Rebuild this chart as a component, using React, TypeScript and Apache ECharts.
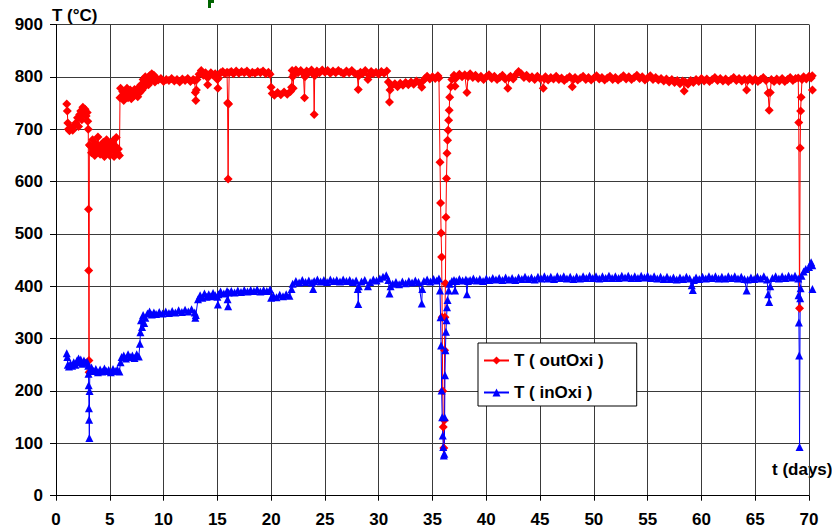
import React, { useEffect, useRef } from "react";
import * as echarts from "echarts";

const xTicks = { min: 0, max: 70, interval: 5 };
const yTicks = { min: 0, max: 900, interval: 100 };
const seriesNames = ["T ( outOxi )", "T ( inOxi )"];
const axisNames = { y: "T (°C)", x: "t (days)" };

const outOxi: number[][] = [
  [1.0, 748], [1.05, 735], [1.1, 712], [1.15, 700], [1.25, 697], [1.4, 703], [1.55, 698], [1.7, 706], [1.85, 712], [2.0, 722],
  [2.1, 705], [2.2, 728], [2.3, 735], [2.4, 718], [2.5, 742], [2.6, 730], [2.7, 738], [2.8, 725], [2.9, 732], [2.95, 715],
  [3.0, 700], [3.02, 547], [3.04, 430], [3.06, 258], [3.08, 236], [3.1, 670], [3.2, 668], [3.3, 655], [3.4, 680], [3.5, 662],
  [3.6, 650], [3.7, 672], [3.8, 660], [3.9, 685], [4.0, 664], [4.1, 652], [4.2, 670], [4.3, 658], [4.4, 675], [4.5, 648],
  [4.6, 666], [4.7, 680], [4.8, 655], [4.9, 668], [5.0, 650], [5.1, 672], [5.2, 660], [5.3, 678], [5.4, 648], [5.5, 668],
  [5.6, 684], [5.7, 655], [5.8, 662], [5.9, 650], [5.95, 760], [6.0, 778], [6.1, 762], [6.2, 772], [6.3, 755], [6.4, 770],
  [6.5, 765], [6.6, 778], [6.7, 760], [6.8, 768], [6.9, 775], [7.0, 758], [7.1, 770], [7.2, 763], [7.3, 776], [7.4, 766],
  [7.5, 772], [7.6, 762], [7.7, 780], [7.8, 770], [7.9, 785], [8.0, 775], [8.1, 795], [8.2, 780], [8.3, 800], [8.4, 788],
  [8.5, 798], [8.6, 785], [8.7, 802], [8.8, 792], [8.9, 806], [9.0, 796], [9.1, 803], [9.2, 790], [9.3, 798], [9.5, 794],
  [9.75, 797], [10.0, 791], [10.25, 795], [10.5, 793], [10.75, 797], [11.0, 792], [11.25, 795], [11.5, 790], [11.75, 796], [12.0, 793],
  [12.25, 797], [12.5, 791], [12.75, 795], [12.9, 793], [12.95, 770], [13.0, 755], [13.05, 775], [13.1, 795], [13.3, 805], [13.5, 812],
  [13.7, 803], [13.9, 808], [14.0, 800], [14.1, 785], [14.2, 800], [14.4, 808], [14.6, 803], [14.8, 806], [15.0, 795], [15.05, 778],
  [15.1, 798], [15.3, 808], [15.5, 810], [15.7, 806], [15.9, 809], [15.95, 750], [16.0, 605], [16.05, 748], [16.1, 808], [16.3, 810],
  [16.5, 806], [16.75, 811], [17.0, 807], [17.25, 810], [17.5, 808], [17.75, 811], [18.0, 806], [18.25, 809], [18.5, 807], [18.75, 810],
  [19.0, 808], [19.25, 811], [19.5, 806], [19.75, 809], [19.9, 805], [20.0, 780], [20.1, 768], [20.3, 765], [20.6, 770], [20.9, 766],
  [21.2, 771], [21.5, 767], [21.8, 772], [21.9, 780], [21.95, 812], [22.0, 800], [22.05, 778], [22.1, 805], [22.3, 813], [22.5, 808],
  [22.75, 812], [23.0, 806], [23.1, 760], [23.15, 800], [23.3, 811], [23.5, 808], [23.75, 813], [23.95, 805], [24.0, 728], [24.05, 802],
  [24.25, 811], [24.5, 808], [24.75, 813], [25.0, 809], [25.25, 812], [25.5, 807], [25.75, 811], [26.0, 808], [26.25, 812], [26.5, 809],
  [26.75, 806], [27.0, 811], [27.25, 808], [27.5, 812], [27.75, 807], [28.0, 805], [28.1, 776], [28.15, 802], [28.3, 809], [28.5, 806],
  [28.75, 812], [29.0, 795], [29.1, 803], [29.3, 810], [29.5, 806], [29.75, 809], [30.0, 805], [30.25, 810], [30.5, 807], [30.75, 811],
  [30.9, 790], [31.0, 752], [31.05, 775], [31.2, 783], [31.5, 787], [31.75, 781], [32.0, 788], [32.25, 784], [32.5, 789], [32.75, 785],
  [33.0, 790], [33.25, 786], [33.5, 792], [33.75, 789], [34.0, 780], [34.1, 792], [34.3, 797], [34.5, 801], [34.75, 796], [35.0, 800],
  [35.25, 797], [35.5, 802], [35.6, 798], [35.7, 637], [35.75, 559], [35.8, 502], [35.85, 456], [35.9, 341], [35.95, 200], [36.0, 131],
  [36.05, 91], [36.1, 144], [36.12, 278], [36.15, 341], [36.2, 406], [36.25, 532], [36.3, 606], [36.35, 654], [36.4, 679], [36.45, 698],
  [36.5, 717], [36.55, 736], [36.6, 761], [36.7, 781], [36.8, 795], [37.0, 803], [37.1, 782], [37.2, 798], [37.5, 805], [37.75, 800],
  [38.0, 804], [38.2, 770], [38.3, 800], [38.5, 806], [38.75, 799], [39.0, 803], [39.25, 797], [39.5, 801], [39.75, 795], [40.0, 800],
  [40.25, 804], [40.5, 797], [40.75, 801], [41.0, 795], [41.25, 799], [41.5, 803], [41.75, 796], [42.0, 778], [42.1, 798], [42.25, 801],
  [42.5, 796], [42.75, 804], [43.0, 810], [43.25, 806], [43.5, 799], [43.75, 803], [44.0, 797], [44.25, 800], [44.5, 795], [44.75, 801],
  [45.0, 797], [45.3, 778], [45.4, 796], [45.5, 800], [45.75, 794], [46.0, 799], [46.25, 796], [46.5, 801], [46.75, 795], [47.0, 798],
  [47.25, 793], [47.5, 797], [47.75, 800], [48.0, 781], [48.1, 795], [48.25, 799], [48.5, 794], [48.75, 798], [49.0, 801], [49.25, 795],
  [49.5, 799], [49.75, 794], [50.0, 798], [50.25, 802], [50.5, 796], [50.75, 799], [51.0, 794], [51.25, 798], [51.5, 801], [51.75, 795],
  [52.0, 799], [52.25, 794], [52.5, 798], [52.75, 802], [53.0, 796], [53.25, 800], [53.5, 795], [53.75, 799], [54.0, 803], [54.25, 797],
  [54.5, 800], [54.75, 794], [55.0, 798], [55.25, 802], [55.5, 795], [55.75, 799], [56.0, 794], [56.25, 797], [56.5, 792], [56.75, 796],
  [57.0, 790], [57.25, 795], [57.5, 789], [57.75, 793], [58.0, 787], [58.25, 792], [58.4, 773], [58.5, 790], [58.75, 786], [59.0, 793],
  [59.25, 789], [59.5, 795], [59.75, 791], [60.0, 797], [60.25, 792], [60.5, 796], [60.75, 791], [61.0, 795], [61.25, 799], [61.5, 793],
  [61.75, 797], [62.0, 792], [62.25, 796], [62.5, 791], [62.75, 795], [63.0, 799], [63.25, 793], [63.5, 797], [63.75, 792], [64.0, 796],
  [64.2, 775], [64.3, 793], [64.5, 797], [64.75, 792], [65.0, 796], [65.25, 791], [65.5, 795], [65.75, 799], [66.0, 793], [66.2, 769],
  [66.3, 736], [66.4, 770], [66.5, 795], [66.75, 791], [67.0, 796], [67.25, 792], [67.5, 797], [67.75, 791], [68.0, 795], [68.25, 799],
  [68.5, 793], [68.75, 797], [69.0, 798], [69.05, 713], [69.12, 358], [69.18, 664], [69.22, 735], [69.27, 761], [69.35, 795], [69.5, 800],
  [69.75, 796], [70.0, 801], [70.2, 798], [70.3, 802], [70.32, 775]
];

const inOxi: number[][] = [
  [1.0, 272], [1.05, 265], [1.1, 250], [1.2, 247], [1.35, 252], [1.5, 248], [1.65, 255], [1.8, 250], [1.95, 258], [2.1, 262],
  [2.2, 255], [2.3, 260], [2.45, 252], [2.6, 258], [2.75, 254], [2.9, 256], [3.0, 248], [3.02, 233], [3.04, 211], [3.06, 167],
  [3.08, 145], [3.1, 110], [3.12, 200], [3.15, 240], [3.3, 245], [3.5, 238], [3.7, 242], [3.9, 236], [4.1, 241], [4.3, 237],
  [4.5, 243], [4.7, 238], [4.9, 240], [5.1, 236], [5.3, 242], [5.5, 238], [5.7, 241], [5.9, 237], [6.0, 255], [6.1, 265],
  [6.3, 268], [6.5, 262], [6.7, 270], [6.9, 265], [7.1, 268], [7.3, 263], [7.5, 270], [7.7, 266], [7.8, 290], [7.85, 312],
  [7.9, 335], [8.0, 322], [8.1, 345], [8.2, 330], [8.3, 340], [8.5, 348], [8.7, 352], [8.9, 346], [9.1, 350], [9.3, 347],
  [9.6, 351], [9.9, 348], [10.2, 352], [10.5, 349], [10.8, 353], [11.1, 350], [11.4, 354], [11.7, 351], [12.0, 355], [12.3, 352],
  [12.6, 356], [12.9, 350], [12.95, 340], [13.0, 345], [13.2, 375], [13.4, 383], [13.6, 378], [13.8, 386], [14.0, 380], [14.2, 385],
  [14.4, 381], [14.6, 387], [14.8, 383], [15.0, 380], [15.05, 365], [15.1, 385], [15.3, 390], [15.6, 386], [15.9, 391], [15.95, 375],
  [16.0, 362], [16.05, 388], [16.3, 391], [16.6, 388], [16.9, 392], [17.2, 389], [17.5, 393], [17.8, 390], [18.1, 393], [18.4, 391],
  [18.7, 394], [19.0, 390], [19.3, 393], [19.6, 391], [19.9, 394], [20.0, 378], [20.2, 382], [20.5, 379], [20.8, 384], [21.1, 381],
  [21.4, 385], [21.7, 382], [21.9, 395], [22.0, 405], [22.3, 410], [22.6, 407], [22.9, 412], [23.2, 408], [23.5, 411], [23.8, 407],
  [23.9, 395], [24.0, 410], [24.3, 413], [24.6, 409], [24.9, 412], [25.2, 408], [25.5, 413], [25.8, 410], [26.1, 412], [26.4, 409],
  [26.7, 413], [27.0, 410], [27.3, 412], [27.6, 408], [27.9, 411], [28.05, 395], [28.1, 366], [28.15, 400], [28.4, 409], [28.7, 412],
  [29.0, 400], [29.2, 408], [29.5, 413], [29.8, 411], [30.1, 415], [30.4, 418], [30.7, 421], [30.9, 412], [31.0, 386], [31.1, 400],
  [31.3, 405], [31.6, 408], [31.9, 404], [32.2, 409], [32.5, 406], [32.8, 410], [33.1, 407], [33.4, 411], [33.7, 408], [34.0, 367],
  [34.05, 395], [34.2, 410], [34.5, 413], [34.8, 409], [35.1, 414], [35.4, 411], [35.6, 415], [35.7, 392], [35.75, 341], [35.8, 287],
  [35.85, 201], [35.9, 150], [35.95, 115], [36.0, 93], [36.05, 77], [36.1, 80], [36.13, 150], [36.16, 230], [36.2, 278], [36.25, 313],
  [36.3, 335], [36.35, 360], [36.4, 374], [36.5, 392], [36.6, 405], [36.8, 410], [37.0, 412], [37.1, 392], [37.2, 410], [37.5, 414],
  [37.8, 411], [38.1, 413], [38.2, 385], [38.3, 410], [38.5, 412], [38.8, 415], [39.1, 411], [39.4, 414], [39.7, 410], [40.0, 415],
  [40.3, 412], [40.6, 416], [40.9, 413], [41.2, 416], [41.5, 412], [41.8, 417], [42.1, 413], [42.4, 416], [42.7, 412], [43.0, 417],
  [43.3, 414], [43.6, 418], [43.9, 414], [44.2, 417], [44.5, 413], [44.8, 418], [45.1, 415], [45.4, 419], [45.7, 415], [46.0, 418],
  [46.3, 414], [46.6, 419], [46.9, 416], [47.2, 419], [47.5, 415], [47.8, 418], [48.1, 414], [48.4, 418], [48.7, 415], [49.0, 419],
  [49.3, 416], [49.6, 420], [49.9, 416], [50.2, 419], [50.5, 415], [50.8, 419], [51.1, 416], [51.4, 420], [51.7, 416], [52.0, 419],
  [52.3, 416], [52.6, 420], [52.9, 417], [53.2, 420], [53.5, 416], [53.8, 419], [54.1, 416], [54.4, 420], [54.7, 417], [55.0, 420],
  [55.3, 416], [55.6, 419], [55.9, 415], [56.2, 418], [56.5, 414], [56.8, 418], [57.1, 414], [57.4, 417], [57.7, 413], [58.0, 417],
  [58.3, 414], [58.6, 418], [58.9, 415], [59.1, 402], [59.2, 393], [59.3, 412], [59.5, 417], [59.8, 414], [60.1, 418], [60.4, 415],
  [60.7, 419], [61.0, 416], [61.3, 419], [61.6, 415], [61.9, 418], [62.2, 415], [62.5, 419], [62.8, 416], [63.1, 419], [63.4, 415],
  [63.7, 418], [64.0, 414], [64.2, 392], [64.3, 413], [64.6, 417], [64.9, 414], [65.2, 418], [65.5, 415], [65.8, 419], [66.1, 413],
  [66.2, 385], [66.3, 370], [66.4, 400], [66.6, 416], [66.9, 419], [67.2, 415], [67.5, 419], [67.8, 416], [68.1, 420], [68.4, 417],
  [68.7, 420], [69.0, 415], [69.03, 383], [69.06, 331], [69.09, 268], [69.12, 93], [69.18, 377], [69.22, 396], [69.3, 420], [69.5, 428],
  [69.7, 433], [70.0, 437], [70.2, 446], [70.3, 440], [70.32, 395]
];

const FONT = "'Liberation Sans', Arial, Helvetica, sans-serif";

export default function App() {
  const ref = useRef<HTMLDivElement>(null);
  useEffect(() => {
    if (!ref.current) return;
    const chart = echarts.init(ref.current, null, { renderer: "svg" });
    const gridLine = { show: true, lineStyle: { color: "#3a3a3a", width: 1 } };
    chart.setOption({
      animation: false,
      backgroundColor: "#ffffff",
      grid: { left: 56, right: 23, top: 24.5, bottom: 35.3 },
      xAxis: {
        type: "value",
        min: xTicks.min,
        max: xTicks.max,
        interval: xTicks.interval,
        axisLine: { show: true, onZero: false, lineStyle: { color: "#000", width: 1 } },
        axisTick: { show: true, length: 5, lineStyle: { color: "#000" } },
        axisLabel: { margin: 15, fontSize: 17, fontWeight: "bold", color: "#000", fontFamily: FONT },
        splitLine: gridLine,
      },
      yAxis: {
        type: "value",
        min: yTicks.min,
        max: yTicks.max,
        interval: yTicks.interval,
        axisLine: { show: true, onZero: false, lineStyle: { color: "#000", width: 1 } },
        axisTick: { show: true, length: 6, lineStyle: { color: "#000" } },
        axisLabel: { margin: 13, fontSize: 17, fontWeight: "bold", color: "#000", fontFamily: FONT },
        splitLine: gridLine,
      },
      legend: {
        orient: "vertical",
        left: 478,
        top: 343,
        padding: [9, 33, 5, 5],
        itemGap: 15,
        itemWidth: 25,
        itemHeight: 10,
        backgroundColor: "#ffffff",
        borderColor: "#000",
        borderWidth: 1,
        textStyle: { fontSize: 17, fontWeight: "bold", color: "#000", fontFamily: FONT },
        data: seriesNames,
      },
      graphic: [
        {
          type: "text",
          left: 52,
          top: 7,
          style: { text: axisNames.y, font: `bold 17px ${FONT}`, fill: "#000" },
        },
        {
          type: "text",
          left: 772,
          top: 461,
          style: { text: axisNames.x, font: `bold 17px ${FONT}`, fill: "#000" },
        },
        {
          type: "rect",
          shape: { x: 208, y: 0, width: 3, height: 8 },
          style: { fill: "#006400" },
        },
        {
          type: "rect",
          shape: { x: 208, y: 0, width: 6, height: 3 },
          style: { fill: "#006400" },
        },
      ],
      series: [
        {
          name: seriesNames[0],
          type: "line",
          data: outOxi,
          clip: false,
          symbol: "diamond",
          symbolSize: 9,
          lineStyle: { color: "#ff0000", width: 1 },
          itemStyle: { color: "#ff0000" },
        },
        {
          name: seriesNames[1],
          type: "line",
          data: inOxi,
          clip: false,
          symbol: "triangle",
          symbolSize: 8,
          lineStyle: { color: "#0000ff", width: 1 },
          itemStyle: { color: "#0000ff" },
        },
      ],
    });
    return () => chart.dispose();
  }, []);
  return (
    <div
      ref={ref}
      style={{ position: "fixed", left: 0, top: 0, width: 832, height: 531, background: "#fff" }}
    />
  );
}
